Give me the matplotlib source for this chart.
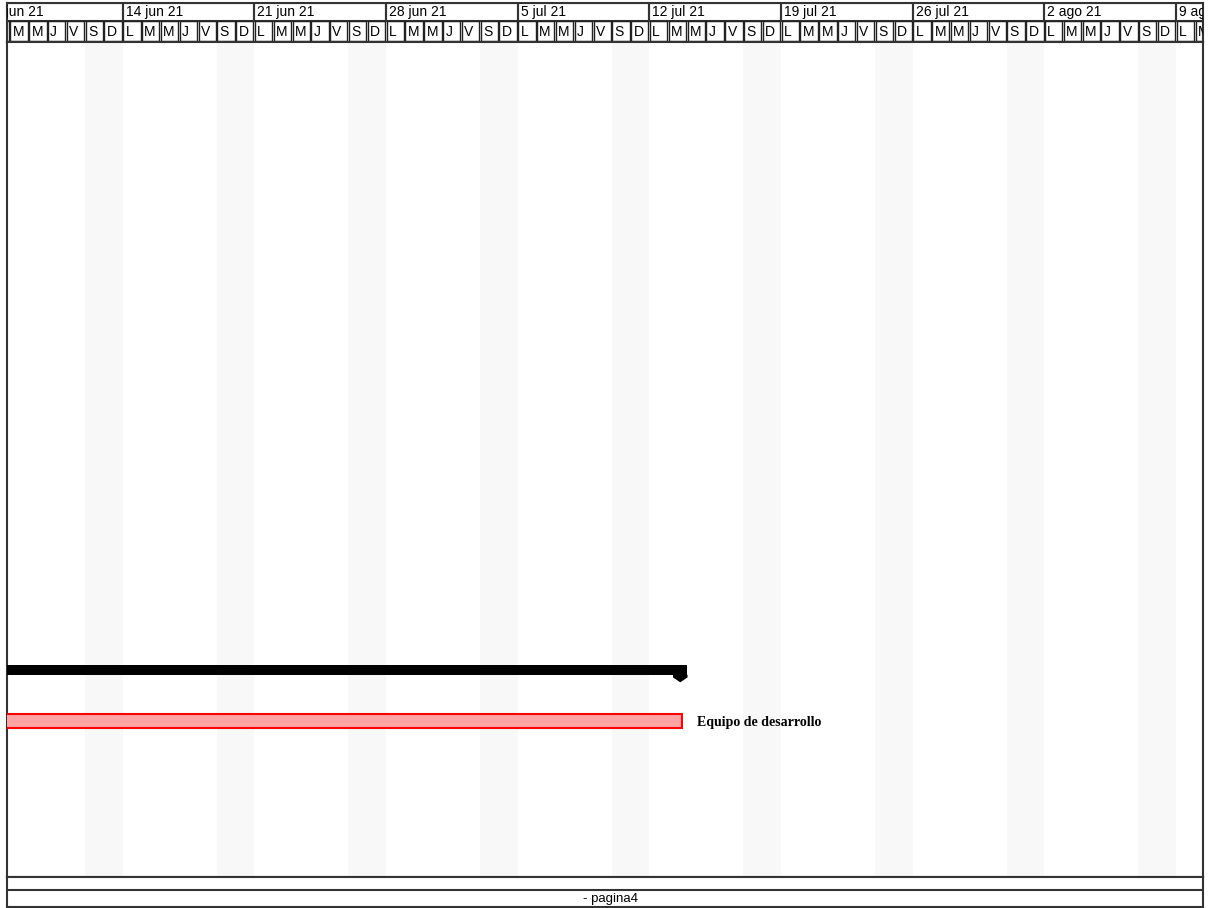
import numpy as np
import pandas as pd
import matplotlib
matplotlib.use('Agg')
import matplotlib.pyplot as plt
import matplotlib.dates as mdates
import matplotlib.transforms as mtransforms
from matplotlib.patches import Rectangle, Polygon

# datos del diagrama
semanas = pd.date_range('2021-06-07', '2021-08-09', freq='7D')
semana_labels = ['7 jun 21', '14 jun 21', '21 jun 21', '28 jun 21', '5 jul 21',
                 '12 jul 21', '19 jul 21', '26 jul 21', '2 ago 21', '9 ago 21']
dias_letras = ['L', 'M', 'M', 'J', 'V', 'S', 'D']

vista_inicio = pd.Timestamp('2021-06-07 20:00')
vista_fin = pd.Timestamp('2021-08-10 10:30')

resumen_inicio = pd.Timestamp('2021-05-24')
resumen_fin = pd.Timestamp('2021-07-14 00:00')
recurso_inicio = pd.Timestamp('2021-05-24')
recurso_fin = pd.Timestamp('2021-07-13 18:00')
recurso_nombre = 'Equipo de desarrollo'
resumen_fila = 25
recurso_fila = 27.05
pie = '- pagina4'

W, H = 1208, 908
borde = '#333333'
sombra = '#f8f8f8'

fig = plt.figure(figsize=(W / 100, H / 100), dpi=100)
fig.patch.set_facecolor('white')

x0 = 6.5 / W
ancho = (1203 - 6.5) / W
ax_head = fig.add_axes([x0, 1 - 42 / H, ancho, 39 / H])
ax = fig.add_axes([x0, 1 - 877 / H, ancho, 835 / H])
ax_pie = fig.add_axes([x0, 1 - 907 / H, ancho, 30 / H])

xmin = mdates.date2num(vista_inicio)
xmax = mdates.date2num(vista_fin)

for a in (ax_head, ax, ax_pie):
    a.set_xticks([])
    a.set_yticks([])
    for s in a.spines.values():
        s.set_linewidth(1.5)
        s.set_edgecolor(borde)

# ---- escala de tiempo ----
ax_head.set_xlim(xmin, xmax)
ax_head.set_ylim(0, 1)
fila_sem = 18 / 39
desplaza = mtransforms.offset_copy(ax_head.transData, fig=fig, x=3, y=0, units='dots')
desplaza_dia = mtransforms.offset_copy(ax_head.transData, fig=fig, x=3, y=0, units='dots')
for lunes, etiqueta in zip(semanas, semana_labels):
    l = mdates.date2num(lunes)
    ax_head.add_patch(Rectangle((l, 1 - fila_sem), 7, fila_sem, fill=False,
                                edgecolor=borde, lw=1.5, clip_on=True))
    t = ax_head.text(l, 1 - fila_sem + 0.04, etiqueta, ha='left', va='bottom',
                     fontsize=10, family='Liberation Sans', transform=desplaza)
    t.set_clip_on(True)
    for i, letra in enumerate(dias_letras):
        d = l + i
        ax_head.add_patch(Rectangle((d + 0.04, 0.03), 0.92, 1 - fila_sem - 0.03,
                                    fill=False, edgecolor='#222222', lw=1.0, clip_on=True))
        t = ax_head.text(d, 0.26, letra, ha='left', va='center', fontsize=10,
                         family='Liberation Sans', transform=desplaza_dia)
        t.set_clip_on(True)

# ---- cuerpo ----
ax.set_xlim(xmin, xmax)
ax.set_ylim(33.28, -0.12)

# sombreado de fines de semana
for lunes in semanas:
    sab = mdates.date2num(lunes) + 5
    ax.axvspan(sab, sab + 2, color=sombra, lw=0, zorder=0)

# barra resumen
r0 = mdates.date2num(resumen_inicio)
r1 = mdates.date2num(resumen_fin)
ax.barh(resumen_fila, r1 - r0, left=r0, height=0.4, color='black', zorder=3)
ax.add_patch(Polygon([(r1 - 0.7, resumen_fila + 0.2), (r1, resumen_fila + 0.2),
                      (r1, resumen_fila + 0.28), (r1 - 0.35, resumen_fila + 0.46),
                      (r1 - 0.7, resumen_fila + 0.28)],
                     closed=True, color='black', zorder=3))

# barra de recurso
q0 = mdates.date2num(recurso_inicio)
q1 = mdates.date2num(recurso_fin)
ax.barh(recurso_fila, q1 - q0, left=q0, height=0.55, color='#ffa3a3',
        edgecolor='#ff0000', lw=1.5, zorder=3)
ax.annotate(recurso_nombre, xy=(q1, recurso_fila), xytext=(15, -1),
            textcoords='offset pixels', ha='left', va='center', fontsize=10,
            fontweight='bold', family='Liberation Serif')

# ---- pie ----
ax_pie.set_xlim(0, 1)
ax_pie.set_ylim(0, 1)
ax_pie.axhline(1 - 13 / 30, color=borde, lw=1.5)
ax_pie.text(0.505, 0.27, pie, ha='center', va='center', fontsize=9.5,
            family='Liberation Sans')

fig.savefig('out.png', dpi=100, facecolor='white')
